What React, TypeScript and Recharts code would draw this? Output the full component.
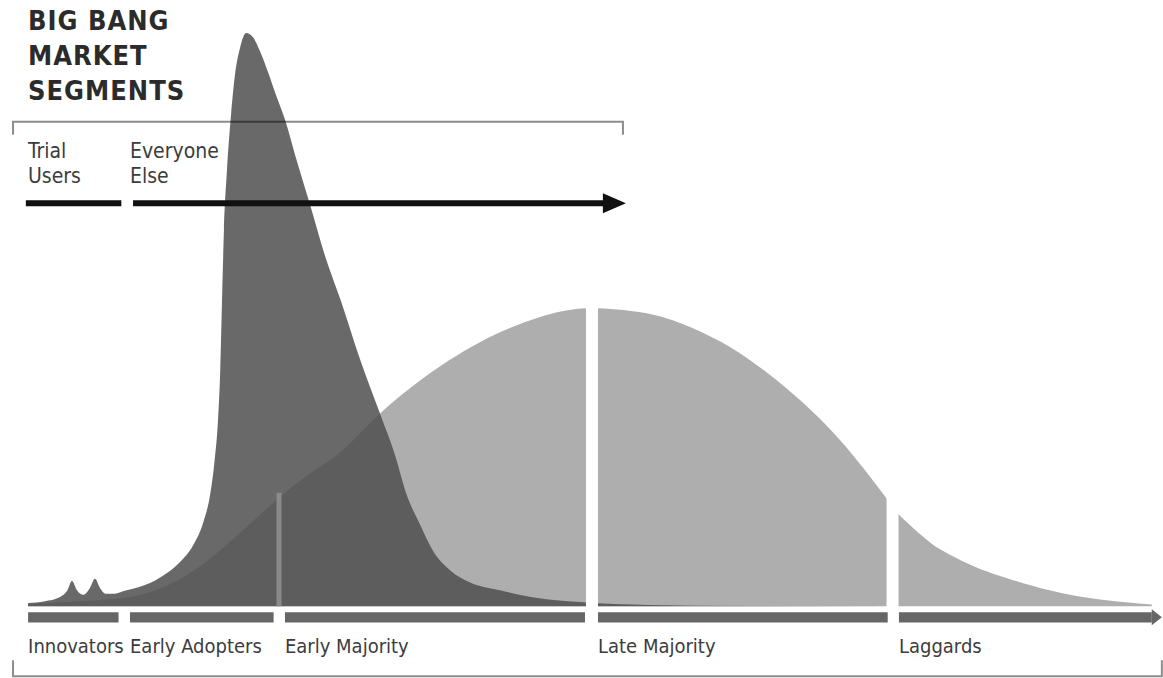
import { ComposedChart, Area, XAxis, YAxis, ReferenceLine, ReferenceArea } from "recharts";

// adoption time (0-100) vs. share of market (peak of big bang = 100)
const bellCurve = [
  { t: 0, share: 0.4 }, { t: 6.4, share: 1.1 }, { t: 10.9, share: 2.5 }, { t: 15.3, share: 7.0 },
  { t: 19.8, share: 14.5 }, { t: 24.2, share: 21.9 }, { t: 27.8, share: 26.9 }, { t: 31.3, share: 33.6 },
  { t: 36.7, share: 41.9 }, { t: 42.0, share: 47.8 }, { t: 46.5, share: 51.0 }, { t: 50.2, share: 52.0 },
  { t: 54.5, share: 51.3 }, { t: 57.5, share: 49.8 }, { t: 60.5, share: 47.3 }, { t: 63.0, share: 44.6 },
  { t: 65.8, share: 40.7 }, { t: 68.8, share: 35.8 }, { t: 71.6, share: 30.4 }, { t: 74.0, share: 24.9 },
  { t: 76.4, share: 18.8 }, { t: 77.6, share: 15.8 }, { t: 79.5, share: 12.4 }, { t: 81.2, share: 9.9 },
  { t: 83.8, share: 7.3 }, { t: 86.5, share: 5.3 }, { t: 90.9, share: 2.8 }, { t: 95.4, share: 1.2 },
  { t: 100, share: 0.3 },
];

const bigBangCurve = [
  { t: 0, share: 0.6 }, { t: 1.5, share: 0.9 }, { t: 2.8, share: 1.6 }, { t: 3.5, share: 2.8 },
  { t: 3.9, share: 4.4 }, { t: 4.35, share: 2.8 }, { t: 4.9, share: 2.0 }, { t: 5.5, share: 3.2 },
  { t: 5.95, share: 4.8 }, { t: 6.4, share: 3.2 }, { t: 6.9, share: 2.2 }, { t: 7.7, share: 2.2 },
  { t: 8.6, share: 2.7 }, { t: 10.4, share: 3.7 }, { t: 12.2, share: 5.6 }, { t: 13.5, share: 7.7 },
  { t: 14.7, share: 10.7 }, { t: 15.6, share: 14.7 }, { t: 16.2, share: 19.5 }, { t: 16.6, share: 25.5 },
  { t: 16.9, share: 32.5 }, { t: 17.1, share: 41.2 }, { t: 17.26, share: 53.4 }, { t: 17.43, share: 65.6 },
  { t: 17.7, share: 76.1 }, { t: 18.06, share: 85.7 }, { t: 18.41, share: 92.7 }, { t: 18.86, share: 97.4 },
  { t: 19.4, share: 100 }, { t: 20.0, share: 99.3 }, { t: 20.6, share: 97.0 }, { t: 21.35, share: 93.2 },
  { t: 22.06, share: 89.2 }, { t: 22.86, share: 84.9 }, { t: 23.9, share: 77.8 }, { t: 25.1, share: 70.0 },
  { t: 26.4, share: 61.3 }, { t: 27.8, share: 53.5 }, { t: 29.5, share: 43.3 }, { t: 31.3, share: 33.7 },
  { t: 32.65, share: 26.4 }, { t: 33.7, share: 19.4 }, { t: 34.9, share: 14.2 }, { t: 36.0, share: 9.8 },
  { t: 37.55, share: 6.3 }, { t: 39.3, share: 4.2 }, { t: 42.0, share: 2.8 }, { t: 44.9, share: 1.6 },
  { t: 49.1, share: 0.75 }, { t: 55.3, share: 0.25 }, { t: 64.2, share: 0.05 }, { t: 100, share: 0 },
];

const segmentNames = ["Innovators", "Early Adopters", "Early Majority", "Late Majority", "Laggards"];
const segmentStarts = [0, 9.07, 22.86, 50.72, 77.5];
const segmentEnds = [8.05, 21.85, 49.56, 76.5, 100];

// segment boundaries that cut the bell curve
const bellCuts = [50.18, 76.93];
const hiddenCut = 22.33;

const W = 1163;
const H = 678;
const FONT = "'DejaVu Sans Condensed', 'Liberation Sans Narrow', 'DejaVu Sans', sans-serif";

const bracket = (tick: number) => (p: any) => (
  <path
    d={`M${p.x1},${p.y1 + tick}V${p.y1}H${p.x2}V${p.y2 + tick}`}
    fill="none"
    stroke="#000"
    strokeOpacity={0.45}
    strokeWidth={2}
  />
);

const arrowLine = (p: any) => (
  <g>
    <line x1={p.x1} y1={p.y1} x2={p.x2 - 20} y2={p.y2} stroke="#111" strokeWidth={6} />
    <polygon points={`${p.x2 - 23},${p.y2 - 10} ${p.x2},${p.y2} ${p.x2 - 23},${p.y2 + 10}`} fill="#111" />
  </g>
);

const axisHead = (p: any) => (
  <polygon points={`${p.x1},${p.y1 - 8} ${p.x2},${p.y2} ${p.x1},${p.y1 + 8}`} fill="#666" />
);

export default function App() {
  return (
    <div style={{ position: "absolute", left: 0, top: 0, width: W, height: H, background: "#fff" }}>
      <ComposedChart width={W} height={H} margin={{ top: 33, right: 0, bottom: 0, left: 0 }}>
        <XAxis type="number" dataKey="t" domain={[-2.5, 101]} allowDataOverflow hide />
        <YAxis type="number" domain={[-12.5, 100]} allowDataOverflow hide />
        <Area
          data={bellCurve}
          dataKey="share"
          type="natural"
          stroke="none"
          fill="#aeaeae"
          fillOpacity={1}
          baseValue={0}
          isAnimationActive={false}
        />
        <Area
          data={bigBangCurve}
          dataKey="share"
          type="monotone"
          stroke="none"
          fill="#4f4f4f"
          fillOpacity={0.85}
          baseValue={0}
          isAnimationActive={false}
        />
        {bellCuts.map((t) => (
          <ReferenceLine
            key={t}
            segment={[{ x: t, y: -0.9 }, { x: t, y: 56 }]}
            stroke="#fff"
            strokeWidth={12}
          />
        ))}
        <ReferenceLine
          segment={[{ x: hiddenCut, y: 0 }, { x: hiddenCut, y: 19.8 }]}
          stroke="#8a8a8a"
          strokeWidth={5}
        />
        {segmentNames.map((name, i) => (
          <ReferenceArea
            key={name}
            x1={segmentStarts[i]}
            x2={segmentEnds[i]}
            y1={-2.8}
            y2={-1.05}
            fill="#666"
            fillOpacity={1}
            stroke="none"
            label={(props: any) => (
              <text
                x={props.viewBox.x}
                y={props.viewBox.y + props.viewBox.height + 31}
                fontFamily={FONT}
                fontSize={20}
                fill="#3c3c3c"
              >
                {name}
              </text>
            )}
          />
        ))}
        <ReferenceLine segment={[{ x: 100, y: -1.92 }, { x: 100.9, y: -1.92 }]} shape={axisHead} />
        <ReferenceLine segment={[{ x: -1.34, y: 84.5 }, { x: 52.94, y: 84.5 }]} shape={bracket(13)} />
        <ReferenceLine segment={[{ x: -1.34, y: -12.2 }, { x: 100.9, y: -12.2 }]} shape={bracket(-16)} />
        <ReferenceLine segment={[{ x: -0.2, y: 70.3 }, { x: 8.3, y: 70.3 }]} stroke="#111" strokeWidth={6} />
        <ReferenceLine segment={[{ x: 9.34, y: 70.3 }, { x: 53.2, y: 70.3 }]} shape={arrowLine} />
      </ComposedChart>
      <svg
        width={W}
        height={H}
        style={{ position: "absolute", left: 0, top: 0, pointerEvents: "none" }}
      >
        <g fontFamily={FONT} fontWeight="bold" fontSize={27} fill="#2b2b2b" letterSpacing={1}>
          <text x={28} y={30}>BIG BANG</text>
          <text x={28} y={65}>MARKET</text>
          <text x={28} y={100}>SEGMENTS</text>
        </g>
        <g fontFamily={FONT} fontSize={21} fill="#3c3c3c">
          <text x={28} y={158}>Trial</text>
          <text x={28} y={183}>Users</text>
          <text x={130} y={158}>Everyone</text>
          <text x={130} y={183}>Else</text>
        </g>
      </svg>
    </div>
  );
}
